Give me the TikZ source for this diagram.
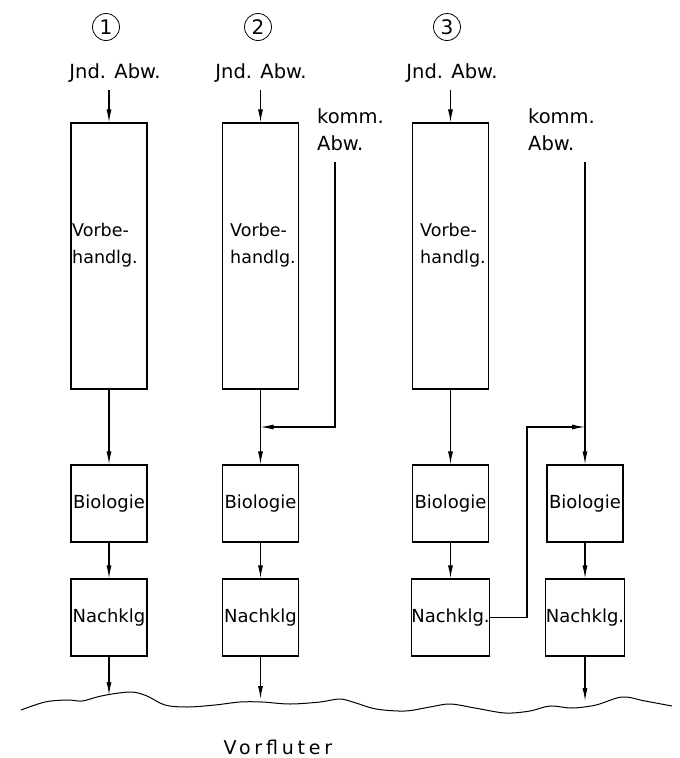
\documentclass[tikz,border=0pt]{standalone}
\usepackage{fontspec}
\setmainfont{DejaVu Sans}
\usetikzlibrary{arrows.meta}
\begin{document}
\begin{tikzpicture}[x=1pt,y=-1pt,
  every node/.style={inner sep=0pt},
  ln/.style={line width=1.1pt},
  arr/.style={ln,-{Latex[length=13pt,width=5pt]}},
  tallbox/.style={draw,ln,minimum width=76pt,minimum height=266pt},
  smallbox/.style={draw,ln,minimum width=76pt,minimum height=77pt,font=\fontsize{18}{20}\selectfont},
  lbl/.style={align=left,font=\fontsize{17.5}{27}\selectfont},
  top/.style={font=\fontsize{19.5}{27}\selectfont},
  circ/.style={draw,circle,line width=0.8pt,minimum size=27pt,font=\fontsize{20}{20}\selectfont}
]
\useasboundingbox[fill=white] (0,0) rectangle (680,758);

% circled numbers
\node[circ] (c1) at (106,27) {1};
\node[circ] (c2) at (258,27) {2};
\node[circ] (c3) at (447,27) {3};

% input labels
\node[top] (j1) at (115,73) {Jnd. Abw.};
\node[top] (j2) at (261,73) {Jnd. Abw.};
\node[top] (j3) at (452,73) {Jnd. Abw.};
\node[top,align=left,anchor=north west] (k2) at (317,108) {komm.\\Abw.};
\node[top,align=left,anchor=north west] (k4) at (528,108) {komm.\\Abw.};

% pretreatment boxes
\node[tallbox] (v1) at (109,256) {};
\node[tallbox] (v2) at (260.5,256) {};
\node[tallbox] (v3) at (450.5,256) {};
\node[lbl,anchor=west] (t1) at (72,245) {Vorbe-\\handlg.};
\node[lbl,anchor=west] (t2) at (230,245) {Vorbe-\\handlg.};
\node[lbl,anchor=west] (t3) at (420,245) {Vorbe-\\handlg.};

% biology boxes
\node[smallbox] (b1) at (109,503.5) {Biologie};
\node[smallbox] (b2) at (260.5,503.5) {Biologie};
\node[smallbox] (b3) at (450.5,503.5) {Biologie};
\node[smallbox] (b4) at (585,503.5) {Biologie};

% final clarifier boxes
\node[smallbox] (n1) at (109,617.5) {Nachklg};
\node[smallbox] (n2) at (260.5,617.5) {Nachklg};
\node[smallbox] (n3) at (450.5,617.5) {Nachklg.};
\node[smallbox] (n4) at (585,617.5) {Nachklg.};

% inflow arrows
\draw[arr] ([yshift=-7pt]j1.south -| v1.north) -- (v1.north);
\draw[arr] ([yshift=-7pt]j2.south -| v2.north) -- (v2.north);
\draw[arr] ([yshift=-7pt]j3.south -| v3.north) -- (v3.north);

% vertical chains
\draw[arr] (v1.south) -- (b1.north);
\draw[arr] (b1.south) -- (n1.north);
\draw[arr] (v2.south) -- (b2.north);
\draw[arr] (b2.south) -- (n2.north);
\draw[arr] (v3.south) -- (b3.north);
\draw[arr] (b3.south) -- (n3.north);
\draw[arr] (b4.south) -- (n4.north);

% municipal wastewater, column 2
\coordinate (k2top) at (335,162);
\coordinate (m2) at (260.5,427);
\draw[arr] (k2top) |- (m2);

% municipal wastewater, column 3/4
\coordinate (k4top) at (585,162);
\draw[arr] (k4top) -- (b4.north);
\coordinate (c3up) at (527,427);
\coordinate (m4) at (585,427);
\draw[arr] (n3.east) -| (c3up) -- (m4);

% outflow to receiving water
\coordinate (w1) at (109,695);
\coordinate (w2) at (260.5,699);
\coordinate (w4) at (585,701);
\draw[arr] (n1.south) -- (w1);
\draw[arr] (n2.south) -- (w2);
\draw[arr] (n4.south) -- (w4);

% water line
\draw[line width=1pt] plot[smooth,tension=0.55] coordinates {
 (21,710) (45,702) (67,700) (82,701) (97,697) (112,694) (132,692) (147,696)
 (165,705) (187,707) (215,705) (240,702) (262,702) (290,704) (320,702) (340,699)
 (356,703) (376,709) (405,711) (430,707) (450,704) (475,708) (505,713) (530,711)
 (550,706) (572,708) (596,705) (622,697) (645,701) (672,706)};

\node[font=\fontsize{19}{20}\selectfont] (vf) at (278,747) {\addfontfeature{LetterSpace=20}Vorfluter};
\end{tikzpicture}
\end{document}
